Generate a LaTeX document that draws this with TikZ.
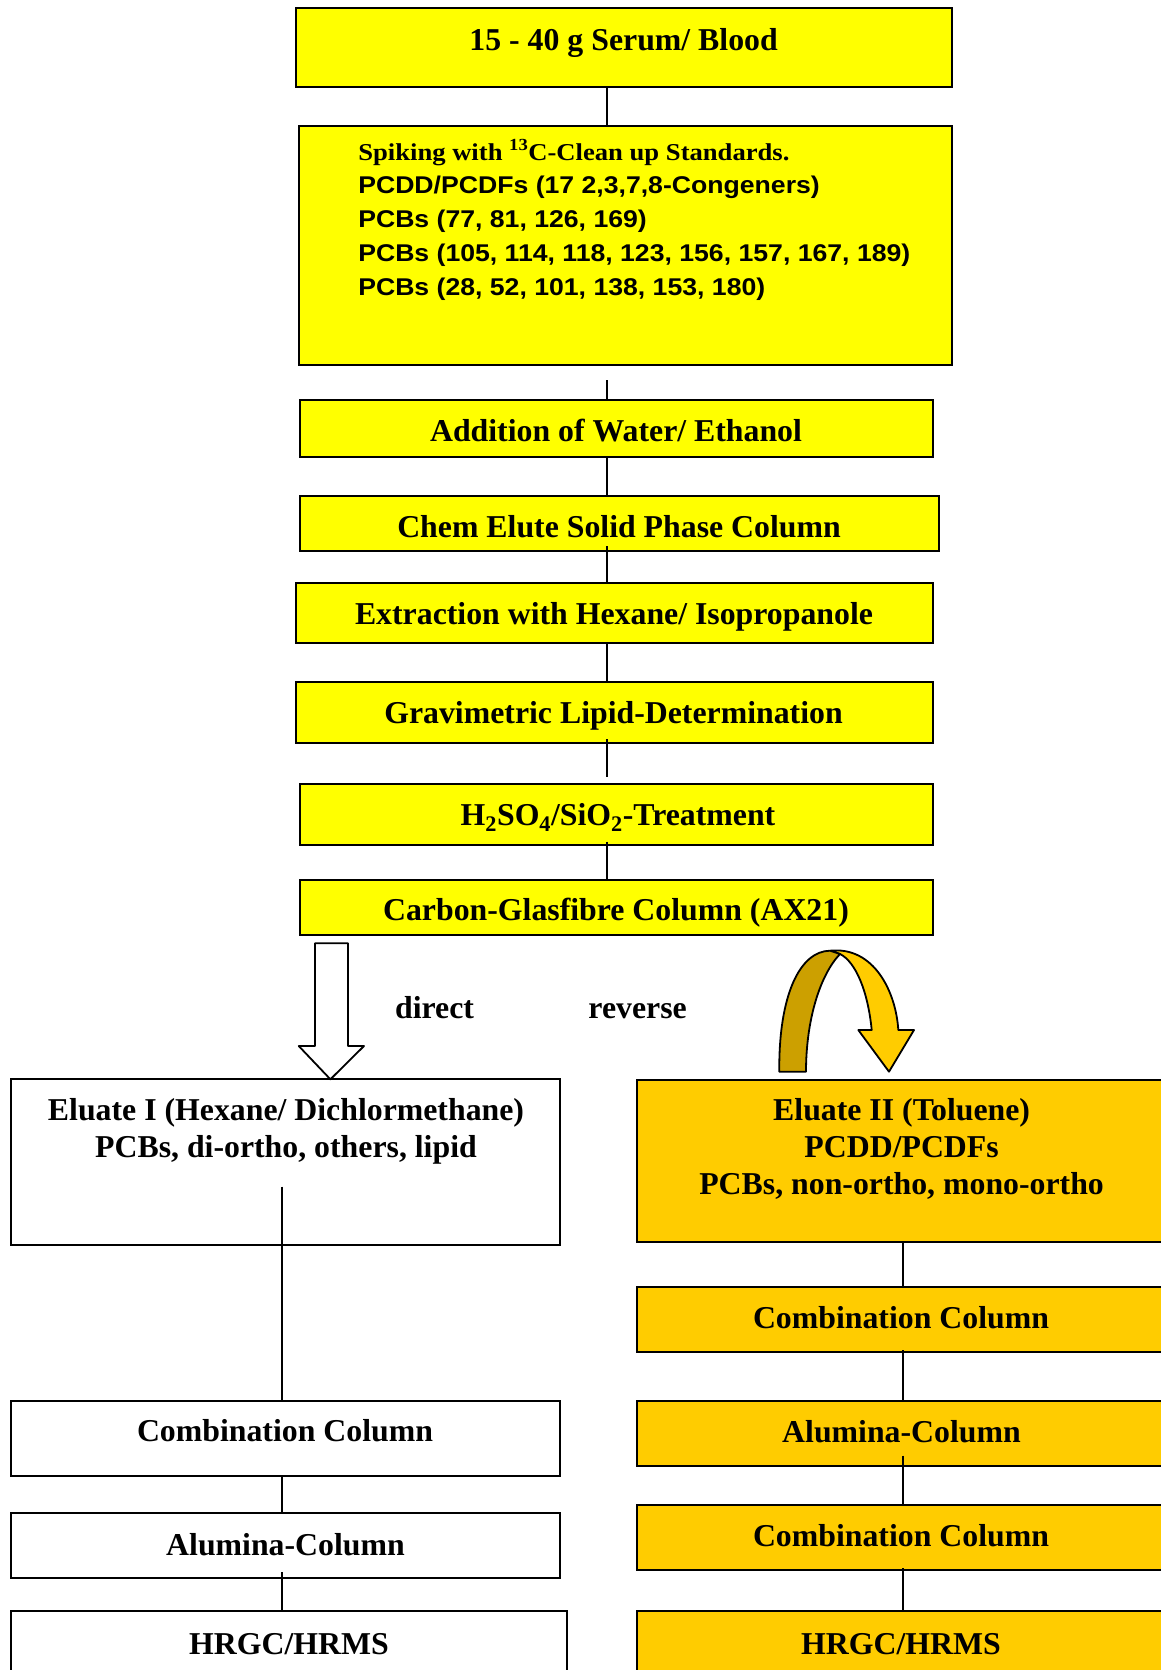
\documentclass[tikz,border=0pt]{standalone}
\usepackage{fontspec}
\usepackage{graphicx}
\setmainfont{Liberation Serif}
\newfontfamily\arialfont{Liberation Sans}
\usetikzlibrary{calc}
\definecolor{boxyellow}{HTML}{FFFF00}
\definecolor{boxorange}{HTML}{FFCC00}
\definecolor{darkgold}{HTML}{CCA000}
\tikzset{
  basebox/.style={draw=black, line width=2pt, rectangle, inner sep=0pt, outer sep=0pt},
  ybox/.style={basebox, fill=boxyellow},
  obox/.style={basebox, fill=boxorange},
  wbox/.style={basebox, fill=white},
  lbl/.style={inner sep=0pt, outer sep=0pt, anchor=base, font={\bfseries\fontsize{31.8}{37}\selectfont}},
  conn/.style={line width=2pt, draw=black},
  shapeline/.style={line width=1.8pt, draw=black, line join=round}
}
\begin{document}
\begin{tikzpicture}[x=1pt, y=-1pt]
\useasboundingbox (0,0) rectangle (1161,1670);
\clip (0,0) rectangle (1161,1670);

% column coordinates
\coordinate (colx) at (606.5,0);
\coordinate (collx) at (281.5,0);
\coordinate (colrx) at (903,0);

% main (yellow) column
\node[ybox, minimum width=656pt, minimum height=79pt] (top) at (624,47.5) {};
\node[ybox, minimum width=653pt, minimum height=239.4pt] (spike) at (625.5,245.3) {};
\node[ybox, minimum width=633pt, minimum height=57pt] (add) at (616,428.5) {};
\node[ybox, minimum width=639.5pt, minimum height=55pt] (chem) at (619.25,523.5) {};
\node[ybox, minimum width=636.5pt, minimum height=60pt] (extr) at (614.25,613) {};
\node[ybox, minimum width=636.5pt, minimum height=61pt] (grav) at (614.25,712.5) {};
\node[ybox, minimum width=633pt, minimum height=60.5pt] (htwo) at (616,814.25) {};
\node[ybox, minimum width=633pt, minimum height=55pt] (carb) at (616,907.5) {};

% left (white) column
\node[wbox, minimum width=549pt, minimum height=166pt] (elone) at (285.5,1162) {};
\node[wbox, minimum width=549pt, minimum height=75pt] (combl) at (285.5,1438.5) {};
\node[wbox, minimum width=549pt, minimum height=65pt] (alul) at (285.5,1545.5) {};
\node[wbox, minimum width=556pt, minimum height=65pt] (hrl) at (289,1643.5) {};

% right (orange) column
\node[obox, minimum width=529pt, minimum height=162pt] (eltwo) at (901.5,1161) {};
\node[obox, minimum width=529pt, minimum height=65pt] (combr) at (901.5,1319.5) {};
\node[obox, minimum width=529pt, minimum height=64.5pt] (alur) at (901.5,1433.25) {};
\node[obox, minimum width=529pt, minimum height=65pt] (combrr) at (901.5,1537.5) {};
\node[obox, minimum width=529pt, minimum height=65pt] (hrr) at (901.5,1643.5) {};

% free ends of connectors
\coordinate (gapa) at (606.5,380);
\coordinate (gapb) at (606.5,777);

% connectors
\draw[conn] (top.south -| colx) -- (spike.north -| colx);
\draw[conn] (gapa) -- (add.north -| colx);
\draw[conn] (add.south -| colx) -- (chem.north -| colx);
\draw[conn] ($(chem.south -| colx)+(0,-5)$) -- (extr.north -| colx);
\draw[conn] (extr.south -| colx) -- (grav.north -| colx);
\draw[conn] ($(grav.south -| colx)+(0,-4)$) -- (gapb);
\draw[conn] ($(htwo.south -| colx)+(0,-3)$) -- (carb.north -| colx);
\draw[conn] ($(elone.south -| collx)+(0,-58.5)$) -- (combl.north -| collx);
\draw[conn] (combl.south -| collx) -- (alul.north -| collx);
\draw[conn] ($(alul.south -| collx)+(0,-6)$) -- (hrl.north -| collx);
\draw[conn] (eltwo.south -| colrx) -- (combr.north -| colrx);
\draw[conn] ($(combr.south -| colrx)+(0,-2)$) -- (alur.north -| colrx);
\draw[conn] ($(alur.south -| colrx)+(0,-10)$) -- (combrr.north -| colrx);
\draw[conn] ($(combrr.south -| colrx)+(0,-2)$) -- (hrr.north -| colrx);

% hollow "direct" arrow
\draw[shapeline, fill=white] (315,943.3) -- (348,943.3) -- (348,1046) -- (364,1046)
  -- (330.4,1079.3) -- (298.75,1046) -- (315,1046) -- cycle;

% curved "reverse" arrow
\draw[shapeline, fill=boxorange] (830,950.7) .. controls (874,946) and (896,992) .. (898.3,1030)
  -- (914,1030) -- (889,1071.7) -- (858.3,1030) -- (871.7,1030)
  .. controls (868,992) and (856,962) .. (840,954) -- cycle;
\draw[shapeline, fill=darkgold] (779.3,1071.7) .. controls (778.5,995) and (800,951) .. (830,950.7)
  -- (840,954) .. controls (820,975) and (806,1020) .. (806,1071.7) -- cycle;

% texts
\node[lbl] (ttop) at (623.6,50.7) {15 - 40 g Serum/ Blood};
\node[inner sep=0pt, outer sep=0pt, anchor=base west] (tspike) at (358.3,160)
 {\scalebox{1.1}[1]{\fontsize{24.2}{33.8}\selectfont\bfseries
  \begin{tabular}[t]{@{}l@{}}
  Spiking with \textsuperscript{13}C-Clean up Standards.\\
  {\arialfont PCDD/PCDFs (17 2,3,7,8-Congeners)}\\
  {\arialfont PCBs (77, 81, 126, 169)}\\
  {\arialfont PCBs (105, 114, 118, 123, 156, 157, 167, 189)}\\
  {\arialfont PCBs (28, 52, 101, 138, 153, 180)}
  \end{tabular}}};
\node[lbl] (tadd) at (616,441) {Addition of Water/ Ethanol};
\node[lbl] (tchem) at (619,537) {Chem Elute Solid Phase Column};
\node[lbl] (textr) at (614,624) {Extraction with Hexane/ Isopropanole};
\node[lbl] (tgrav) at (613.5,723) {Gravimetric Lipid-Determination};
\node[lbl] (thtwo) at (618,825) {H\textsubscript{2}SO\textsubscript{4}/SiO\textsubscript{2}-Treatment};
\node[lbl] (tcarb) at (616,920) {Carbon-Glasfibre Column (AX21)};
\node[lbl] (tdirect) at (434.6,1018.3) {direct};
\node[lbl] (treverse) at (637.6,1018.3) {reverse};
\node[lbl] (telone) at (286,1120) {\begin{tabular}[t]{@{}c@{}}Eluate I (Hexane/ Dichlormethane)\\ PCBs, di-ortho, others, lipid\end{tabular}};
\node[lbl] (teltwo) at (901.6,1120) {\begin{tabular}[t]{@{}c@{}}Eluate II (Toluene)\\ PCDD/PCDFs\\ PCBs, non-ortho, mono-ortho\end{tabular}};
\node[lbl] (tcombl) at (285,1441) {Combination Column};
\node[lbl] (talul) at (285.5,1555) {Alumina-Column};
\node[lbl] (thrl) at (289,1654) {HRGC/HRMS};
\node[lbl] (tcombr) at (901,1328) {Combination Column};
\node[lbl] (talur) at (901.5,1442) {Alumina-Column};
\node[lbl] (tcombrr) at (901,1546) {Combination Column};
\node[lbl] (thrr) at (901,1654) {HRGC/HRMS};
\end{tikzpicture}
\end{document}
